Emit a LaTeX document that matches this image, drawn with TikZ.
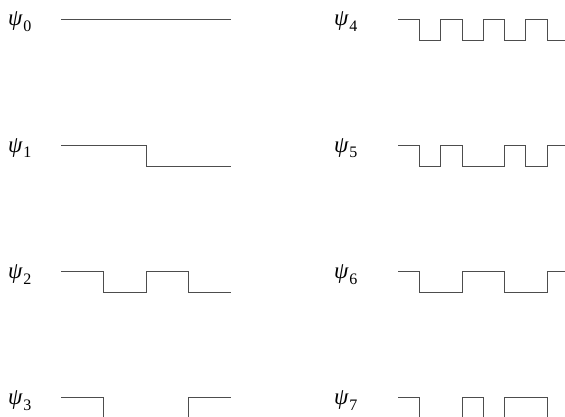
\documentclass[tikz,border=0pt]{standalone}
\usepackage{fontspec}
\setmainfont{Liberation Serif}
\usetikzlibrary{positioning}
\definecolor{trace}{HTML}{4D4D4D}
\newcommand{\stepw}{21.25}
\newcommand{\stepamp}{21}
% one Walsh trace: start x, top y, list of signs (only the jumps become corners)
\newcommand{\walshtrace}[3]{%
  \xdef\tracepath{(#1,#2)}%
  \foreach \s [count=\i from 0, remember=\s as \p (initially 1)] in {#3}{%
    \pgfmathsetmacro\xx{#1+\i*\stepw}%
    \pgfmathsetmacro\yold{#2+(1-(\p))*\stepamp/2}%
    \pgfmathsetmacro\ynew{#2+(1-(\s))*\stepamp/2}%
    \ifnum\s=\p\else\xdef\tracepath{\tracepath -- (\xx,\yold) -- (\xx,\ynew)}\fi
    \xdef\ylast{\ynew}%
  }%
  \pgfmathsetmacro\xend{#1+8*\stepw}%
  \draw[wave] \tracepath -- (\xend,\ylast);
}
\tikzset{
  wave/.style={draw=trace, line width=0.9pt, line join=miter},
  lbl/.style={anchor=base west, inner sep=0pt, font=\fontsize{23}{26}\selectfont},
}
\newcommand{\psilbl}[1]{\textit{ψ}\kern0.5pt\raisebox{-5.5pt}{\fontsize{16}{16}\selectfont #1}}

\begin{document}
\begin{tikzpicture}[x=1pt,y=-1pt]
\useasboundingbox (0,0) rectangle (565,417);
\clip (0,0) rectangle (565,417);
% labels
\node[lbl] (p0) at (8,26)    {\psilbl{0}};
\node[lbl] (p1) at (8,152.3) {\psilbl{1}};
\node[lbl] (p2) at (8,278.7) {\psilbl{2}};
\node[lbl] (p3) at (8,404.7) {\psilbl{3}};
\node[lbl] (p4) at (334,26)    {\psilbl{4}};
\node[lbl] (p5) at (334,152.3) {\psilbl{5}};
\node[lbl] (p6) at (334,278.7) {\psilbl{6}};
\node[lbl] (p7) at (334,404.7) {\psilbl{7}};
% left column
\walshtrace{61}{19}{1,1,1,1,1,1,1,1}
\walshtrace{61}{145.3}{1,1,1,1,-1,-1,-1,-1}
\walshtrace{61}{271.7}{1,1,-1,-1,1,1,-1,-1}
\walshtrace{61}{397.7}{1,1,-1,-1,-1,-1,1,1}
% right column
\walshtrace{398.3}{19}{1,-1,1,-1,1,-1,1,-1}
\walshtrace{398.3}{145.3}{1,-1,1,-1,-1,1,-1,1}
\walshtrace{398.3}{271.7}{1,-1,-1,1,1,-1,-1,1}
\walshtrace{398.3}{397.7}{1,-1,-1,1,-1,1,1,-1}
\end{tikzpicture}
\end{document}
